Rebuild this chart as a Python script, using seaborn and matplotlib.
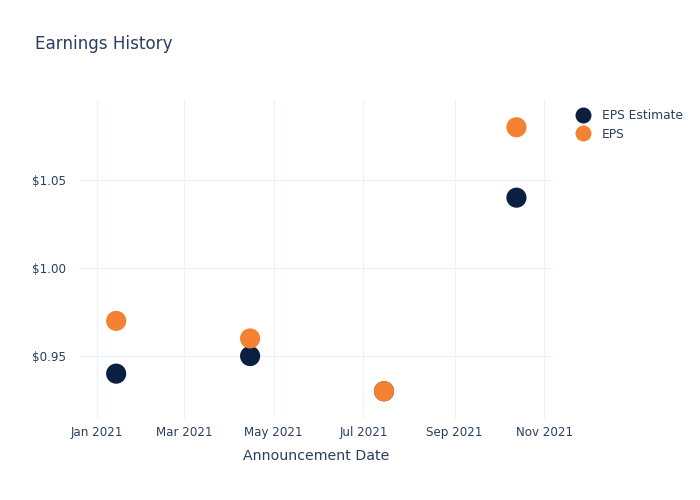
import matplotlib
matplotlib.use("Agg")
import matplotlib.pyplot as plt
import matplotlib.dates as mdates
import seaborn as sns
import pandas as pd
import numpy as np

dates = ["2021-01-14", "2021-04-15", "2021-07-15", "2021-10-13"]
eps_estimate = [0.94, 0.95, 0.93, 1.04]
eps_actual = [0.97, 0.96, 0.93, 1.08]
series_names = ["EPS Estimate", "EPS"]
colors = ["#0b1f41", "#f58232"]
x_ticks = ["2021-01-01", "2021-03-01", "2021-05-01", "2021-07-01", "2021-09-01", "2021-11-01"]
y_ticks = [0.95, 1.00, 1.05]

df = pd.DataFrame({
    "date": pd.to_datetime(dates * 2),
    "value": eps_estimate + eps_actual,
    "series": [series_names[0]] * len(dates) + [series_names[1]] * len(dates),
})

sns.set_theme(style="white")
plt.rcParams["font.family"] = ["DejaVu Sans"]
text_color = "#2a3f5f"
grid_color = "#eef1f8"

fig = plt.figure(figsize=(7, 5), dpi=100)
ax = fig.add_axes([80 / 700, 82 / 500, 473 / 700, 318 / 500])

sns.scatterplot(data=df, x="date", y="value", hue="series", hue_order=series_names,
                palette=colors, s=210, linewidth=0, ax=ax, zorder=3, legend=True)

ax.set_xlim(pd.Timestamp("2020-12-20 10:00"), pd.Timestamp("2021-11-06 20:00"))
ax.set_ylim(0.9148, 1.0955)
ax.set_xticks(pd.to_datetime(x_ticks))
ax.xaxis.set_major_formatter(mdates.DateFormatter("%b %Y"))
ax.set_yticks(y_ticks)
ax.set_yticklabels([f"${v:.2f}" for v in y_ticks])
ax.grid(True, color=grid_color, linewidth=0.9, zorder=0)
ax.set_axisbelow(True)
for s in ax.spines.values():
    s.set_visible(False)
ax.tick_params(axis="both", length=0, labelsize=8.6, colors=text_color, pad=6)
ax.tick_params(axis="y", pad=10)
ax.set_xlabel("Announcement Date", fontsize=10.2, color=text_color, labelpad=7)
ax.set_ylabel("")

leg = ax.legend(loc="upper left", bbox_to_anchor=(1.028, 0.987), frameon=False,
                fontsize=8.8, handletextpad=0.5, borderaxespad=0, labelspacing=0.45,
                markerscale=1.0)
for t in leg.get_texts():
    t.set_color(text_color)
for h in leg.legend_handles:
    if hasattr(h, "set_markersize"):
        h.set_markersize(11.5)
    elif hasattr(h, "set_sizes"):
        h.set_sizes([140])

fig.text(35 / 700, 1 - 44 / 500, "Earnings History", fontsize=12.1, color=text_color,
         va="center", ha="left")

fig.savefig("out.png", dpi=100)
